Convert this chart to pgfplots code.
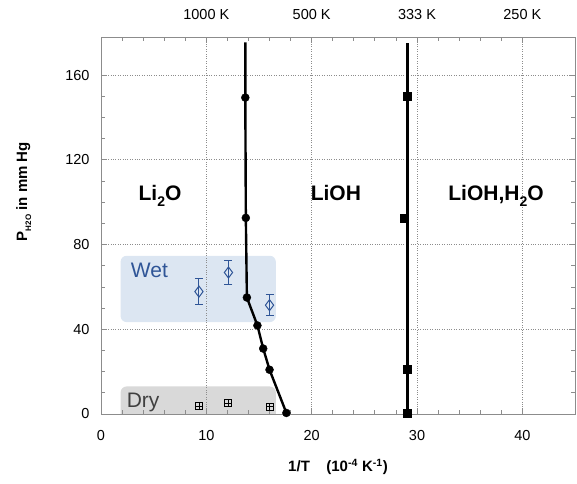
\documentclass[border=0pt]{standalone}
\usepackage{fontspec}
\setmainfont{Liberation Sans}
\usepackage{pgfplots}
\pgfplotsset{compat=1.18}
\definecolor{wetfill}{HTML}{DCE6F2}
\definecolor{dryfill}{HTML}{D9D9D9}
\definecolor{wetblue}{HTML}{2F5597}
\definecolor{axgray}{HTML}{8C8C8C}
\begin{document}
\begin{tikzpicture}
\begin{axis}[set layers, clip mode=individual,
  width=474pt, height=377pt, scale only axis,
  xmin=0, xmax=45, ymin=0, ymax=178,
  xtick={0,10,20,30,40}, ytick={0,40,80,120,160},
  minor x tick num=4, minor y tick num=3,
  tick align=inside, major tick length=6pt, minor tick length=4pt,
  tick pos=both,
  grid=major, major grid style={axgray, dotted, line width=0.9pt},
  axis line style={axgray, line width=0.9pt},
  every tick/.style={axgray, line width=0.8pt},
  every minor tick/.style={axgray, line width=0.8pt},
  /pgf/number format/assume math mode=true,
  tick label style={font=\fontsize{14.5}{16}\selectfont},
  xticklabel style={yshift=-13pt},
  yticklabel style={xshift=-8pt},
  xlabel={\bfseries 1/T\hspace{1.1em}(10\textsuperscript{-4} K\textsuperscript{-1})},
  xlabel style={at={(axis description cs:0.5,0)}, anchor=center, yshift=-53pt, font=\fontsize{15}{17}\selectfont},
  ylabel={\bfseries P{\fontsize{8}{8}\selectfont\raisebox{-4pt}{H2O}} in mm Hg},
  ylabel style={at={(axis description cs:-0.163,0.59)}, anchor=center, font=\fontsize{15}{17}\selectfont},
]
\begin{pgfonlayer}{axis background}
\fill[wetfill, rounded corners=6pt] (axis cs:1.86,43.4) rectangle (axis cs:16.6,74.7);
\fill[dryfill] (axis cs:1.86,0) [rounded corners=6pt] -- (axis cs:1.86,13) -- (axis cs:16.6,13) [sharp corners] -- (axis cs:16.6,0) -- cycle;
\end{pgfonlayer}

% Li2O / LiOH boundary
\addplot[black, line width=2.4pt, mark=none] coordinates {
 (13.7,175.5) (13.7,149.4) (13.75,92.6) (13.85,55) (14.85,41.8) (15.4,30.9) (16.0,20.9) (17.6,0.5)};
\addplot[only marks, mark=*, mark size=4pt, black] coordinates {
 (13.7,149.4) (13.75,92.6) (13.85,55) (14.85,41.8) (15.4,30.9) (16.0,20.9) (17.6,0.5)};

% LiOH / LiOH.H2O boundary
\addplot[black, line width=2.4pt, mark=none] coordinates {(29.1,175) (29.1,0)};
\addplot[only marks, mark=square*, mark size=4pt, black] coordinates {
 (29.1,150) (28.8,92.6) (29.1,21) (29.1,0.5)};

% Wet points
\addplot[only marks, mark=diamond, mark size=5.5pt, wetblue, line width=1pt,
  error bars/.cd, y dir=both, y explicit, error mark=-,
  error bar style={line width=1pt, wetblue},
  error mark options={rotate=90, mark size=4pt, line width=1pt, wetblue}]
 coordinates {(9.3,57.8) +- (0,6.3) (12.1,66.8) +- (0,5.7) (16.0,51.4) +- (0,4.8)};

% Dry points
\addplot[only marks, mark=square, mark size=3.5pt, black, line width=1pt] coordinates {
 (9.3,3.8) (12.1,5.1) (16.0,3.5)};
\addplot[only marks, mark=+, mark size=3.5pt, black, line width=0.8pt] coordinates {
 (9.3,3.8) (12.1,5.1) (16.0,3.5)};

\node[font=\fontsize{21}{21}\selectfont\bfseries, anchor=base] at (axis cs:5.6,100.7)
  {Li\raisebox{-6pt}{\fontsize{14}{14}\selectfont 2}O};
\node[font=\fontsize{21}{21}\selectfont\bfseries, anchor=base] at (axis cs:22.3,100.7) {LiOH};
\node[font=\fontsize{21}{21}\selectfont\bfseries, anchor=base] at (axis cs:37.5,100.7)
  {LiOH,H\raisebox{-6pt}{\fontsize{14}{14}\selectfont 2}O};
\node[font=\fontsize{21}{21}\selectfont, text=wetblue, anchor=base] at (axis cs:4.6,64.6) {Wet};
\node[font=\fontsize{21}{21}\selectfont, text=black!75, anchor=base] at (axis cs:4.0,3.3) {Dry};

\node[font=\fontsize{14.5}{16}\selectfont, yshift=22pt] at (axis cs:10,178) {1000 K};
\node[font=\fontsize{14.5}{16}\selectfont, yshift=22pt] at (axis cs:20,178) {500 K};
\node[font=\fontsize{14.5}{16}\selectfont, yshift=22pt] at (axis cs:30,178) {333 K};
\node[font=\fontsize{14.5}{16}\selectfont, yshift=22pt] at (axis cs:40,178) {250 K};
\end{axis}
\pgfresetboundingbox
\useasboundingbox (-101pt,-69pt) rectangle (476pt,414pt);
\end{tikzpicture}
\end{document}
